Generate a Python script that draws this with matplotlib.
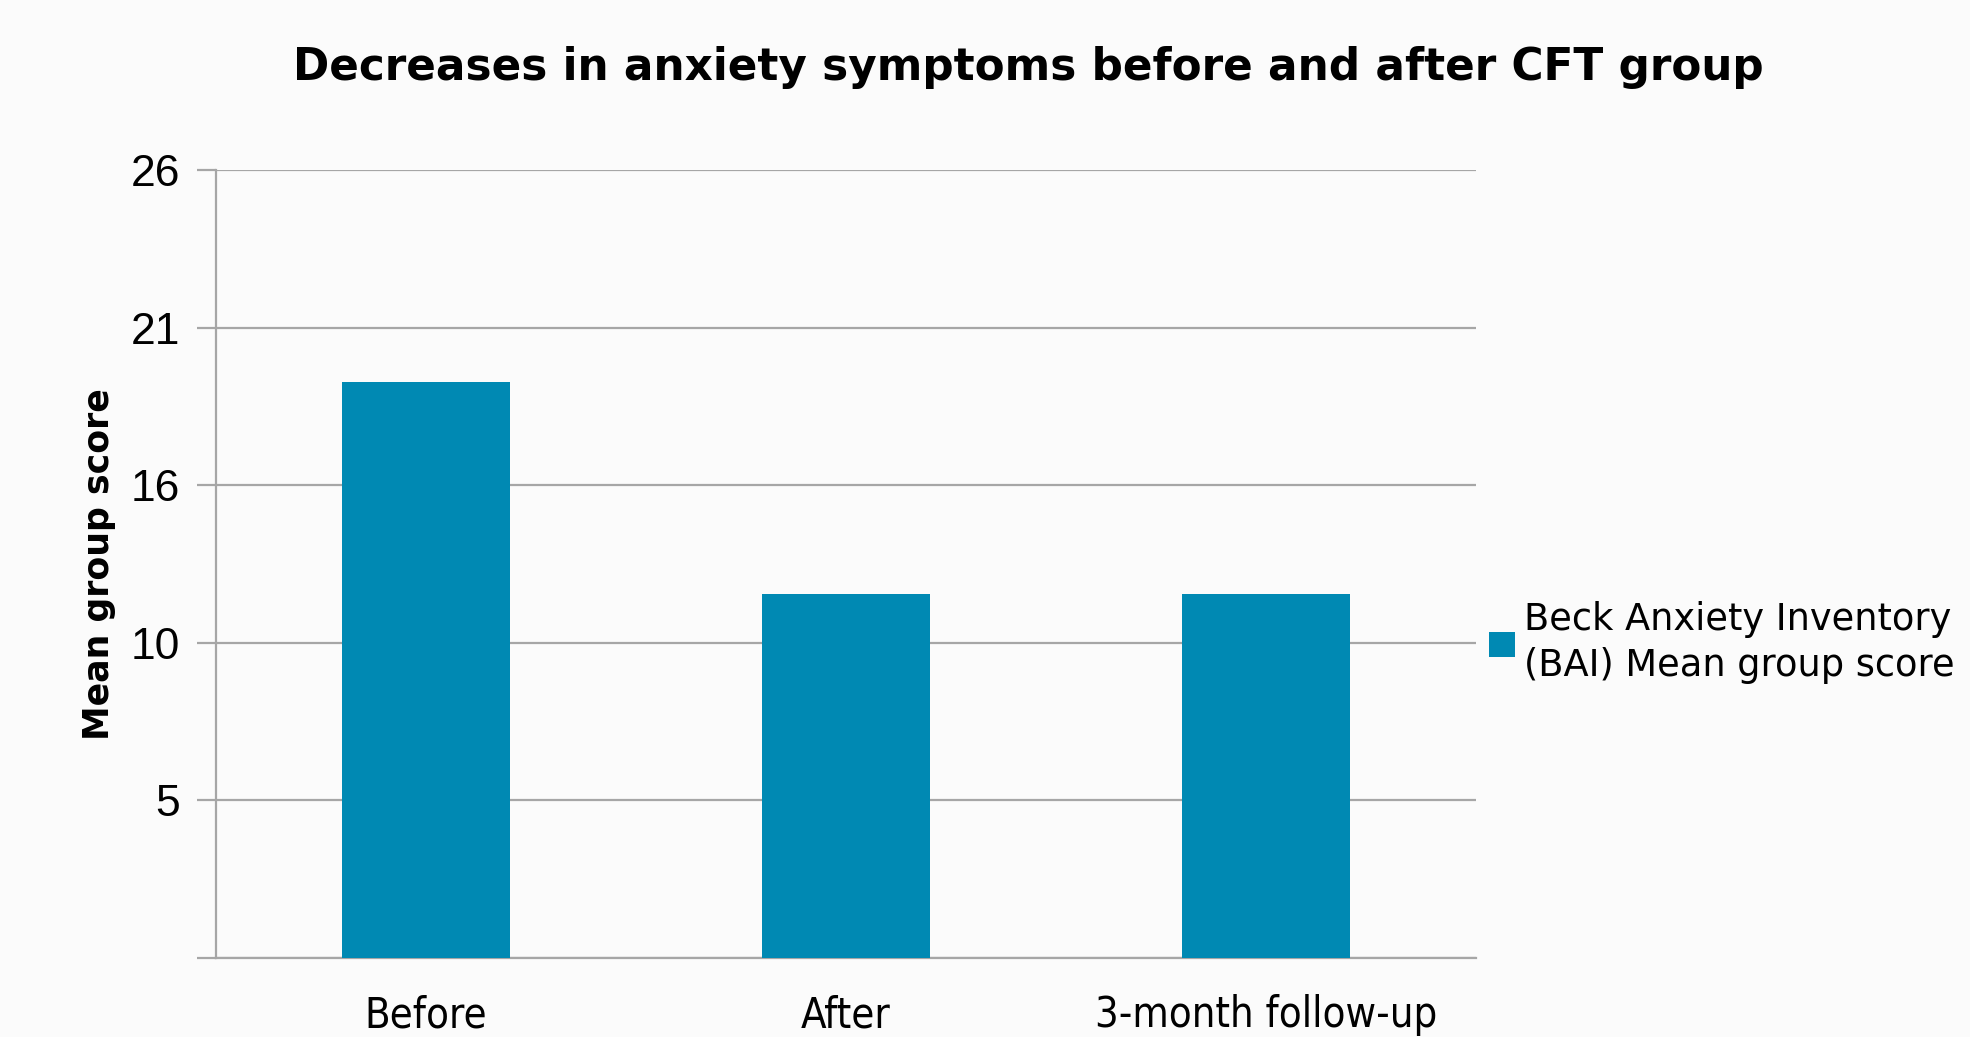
import matplotlib.pyplot as plt
import numpy as np

# data
categories = ["Before", "After", "3-month follow-up"]
bai_scores = [19, 12, 12]
series_name = "Beck Anxiety Inventory\n(BAI) Mean group score"
y_ticks = [0, 5.2, 10.4, 15.6, 20.8, 26]
y_tick_labels = ["", "5", "10", "16", "21", "26"]

bar_color = "#0089B3"
grid_color = "#A6A6A6"

fig = plt.figure(figsize=(19.7, 10.37), dpi=100)
fig.patch.set_facecolor("#FBFBFB")
ax = fig.add_axes([216 / 1970, 1 - 958 / 1037, 1260 / 1970, 788 / 1037])
ax.set_facecolor("#FBFBFB")

x = np.arange(len(categories))
ax.bar(x, bai_scores, width=0.4, color=bar_color, zorder=3, label=series_name)

ax.set_xlim(-0.5, len(categories) - 0.5)
ax.set_ylim(0, 26)
ax.set_yticks(y_ticks)
ax.set_yticklabels(y_tick_labels, fontsize=32, family="Liberation Sans")
ax.yaxis.grid(True, color=grid_color, linewidth=1.6, zorder=0)
ax.tick_params(axis="y", length=14, width=1.6, color=grid_color, pad=12)

ax.set_xticks(x)
ax.set_xticklabels(categories, fontsize=30, family="DejaVu Sans", fontstretch="condensed")
ax.tick_params(axis="x", length=0, pad=26)

for side in ["top", "right"]:
    ax.spines[side].set_visible(False)
for side in ["left", "bottom"]:
    ax.spines[side].set_color(grid_color)
    ax.spines[side].set_linewidth(1.6)

ax.set_ylabel("Mean group score", fontsize=25, fontweight="bold", labelpad=10)

fig.text(0.522, 0.935, "Decreases in anxiety symptoms before and after CFT group",
         ha="center", va="center", fontsize=31.5, fontweight="bold")

leg = ax.legend(loc="center left", bbox_to_anchor=(1.0, 0.40), frameon=False,
                fontsize=26.5, handlelength=0.7, handleheight=0.7, handletextpad=0.25,
                borderaxespad=0.15, borderpad=0.2)
for t in leg.get_texts():
    t.set_linespacing(1.3)

fig.savefig("out.png", dpi=100, facecolor=fig.get_facecolor())
